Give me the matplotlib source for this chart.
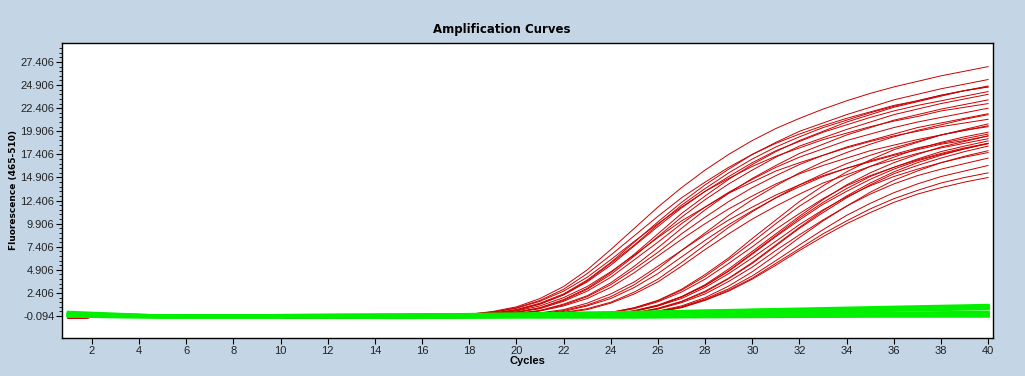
import numpy as np
import matplotlib
matplotlib.use("Agg")
import matplotlib.pyplot as plt
from matplotlib.ticker import FixedLocator

# ── data ────────────────────────────────────────────────────
cycles = np.arange(1, 41)

# shared flat start of the positive samples, cycles 1-15
red_baseline = [-0.3, -0.25, -0.2, -0.2, -0.2, -0.2, -0.2, -0.2, -0.2, -0.25,
                -0.3, -0.3, -0.3, -0.25, -0.2]

# positive samples, fluorescence at cycles 16..40
red_early = [
    [-0.15, -0.1, 0.1, 0.4, 0.9, 1.8, 3.1, 4.9, 7.1, 9.4, 11.7, 13.8, 15.7, 17.4, 18.9, 20.2, 21.3, 22.3, 23.2, 24.0, 24.7, 25.3, 25.9, 26.4, 26.9],
    [-0.16, -0.12, 0.0, 0.2, 0.6, 1.3, 2.3, 3.8, 5.7, 7.9, 10.1, 12.2, 14.1, 15.8, 17.4, 18.7, 19.9, 20.8, 21.7, 22.5, 23.3, 23.9, 24.5, 25.0, 25.5],
    [-0.16, -0.12, 0.0, 0.2, 0.6, 1.2, 2.2, 3.7, 5.6, 7.6, 9.8, 11.9, 13.7, 15.4, 16.9, 18.2, 19.3, 20.3, 21.1, 21.9, 22.6, 23.2, 23.8, 24.3, 24.8],
    [-0.15, -0.1, 0.1, 0.35, 0.8, 1.6, 2.8, 4.5, 6.5, 8.6, 10.7, 12.7, 14.4, 16.0, 17.4, 18.6, 19.6, 20.5, 21.3, 22.0, 22.7, 23.2, 23.8, 24.3, 24.7],
    [-0.17, -0.15, -0.1, 0.1, 0.35, 0.8, 1.7, 2.9, 4.6, 6.6, 8.8, 11.0, 12.9, 14.7, 16.3, 17.7, 18.9, 19.9, 20.9, 21.7, 22.5, 23.1, 23.7, 24.3, 24.7],
    [-0.16, -0.13, 0.0, 0.2, 0.5, 1.2, 2.2, 3.6, 5.4, 7.5, 9.6, 11.6, 13.4, 15.0, 16.5, 17.8, 18.8, 19.8, 20.6, 21.4, 22.1, 22.7, 23.2, 23.7, 24.2],
    [-0.18, -0.15, -0.1, 0.1, 0.3, 0.8, 1.6, 2.8, 4.4, 6.4, 8.5, 10.6, 12.5, 14.2, 15.7, 17.1, 18.3, 19.2, 20.1, 20.9, 21.7, 22.3, 22.9, 23.4, 23.9],
    [-0.2, -0.16, -0.13, 0.0, 0.2, 0.5, 1.2, 2.1, 3.5, 5.3, 7.3, 9.4, 11.4, 13.2, 14.8, 16.2, 17.5, 18.5, 19.5, 20.3, 21.1, 21.7, 22.3, 22.8, 23.3],
    [-0.15, -0.1, 0.05, 0.3, 0.75, 1.5, 2.6, 4.1, 6.0, 8.0, 9.9, 11.7, 13.4, 14.8, 16.1, 17.2, 18.1, 19.0, 19.7, 20.4, 21.0, 21.5, 22.1, 22.5, 22.9],
    [-0.18, -0.15, -0.1, 0.05, 0.3, 0.7, 1.5, 2.6, 4.1, 6.0, 7.9, 9.9, 11.7, 13.3, 14.7, 16.0, 17.1, 18.0, 18.9, 19.6, 20.3, 20.9, 21.4, 21.9, 22.4],
    [-0.2, -0.17, -0.13, 0.0, 0.15, 0.5, 1.1, 2.0, 3.3, 5.0, 6.8, 8.8, 10.6, 12.3, 13.8, 15.1, 16.3, 17.3, 18.2, 18.9, 19.6, 20.3, 20.8, 21.3, 21.8],
    [-0.17, -0.14, -0.05, 0.15, 0.45, 1.0, 1.9, 3.1, 4.7, 6.5, 8.4, 10.2, 11.7, 13.2, 14.4, 15.6, 16.5, 17.3, 18.1, 18.8, 19.4, 19.9, 20.4, 20.8, 21.2],
    [-0.2, -0.17, -0.14, -0.05, 0.15, 0.45, 1.0, 1.8, 3.0, 4.6, 6.4, 8.2, 9.9, 11.5, 12.9, 14.2, 15.3, 16.2, 17.0, 17.8, 18.4, 19.0, 19.5, 20.0, 20.4],
    [-0.2, -0.18, -0.16, -0.1, 0.0, 0.25, 0.6, 1.3, 2.3, 3.6, 5.3, 7.0, 8.7, 10.3, 11.7, 13.0, 14.1, 15.1, 15.9, 16.6, 17.3, 17.9, 18.5, 18.9, 19.4],
]

red_middle = [
    [-0.2, -0.2, -0.17, -0.13, -0.05, 0.15, 0.5, 1.1, 2.0, 3.3, 5.0, 7.0, 8.9, 10.8, 12.5, 14.0, 15.4, 16.6, 17.6, 18.5, 19.3, 20.0, 20.6, 21.2, 21.7],
    [-0.2, -0.2, -0.18, -0.16, -0.1, 0.05, 0.3, 0.7, 1.4, 2.5, 3.9, 5.7, 7.6, 9.5, 11.2, 12.7, 14.1, 15.3, 16.4, 17.3, 18.1, 18.8, 19.5, 20.0, 20.5],
    [-0.2, -0.2, -0.17, -0.14, -0.05, 0.15, 0.4, 1.0, 1.8, 3.0, 4.5, 6.3, 8.1, 9.8, 11.3, 12.7, 13.9, 15.0, 15.9, 16.7, 17.4, 18.1, 18.6, 19.1, 19.6],
    [-0.2, -0.2, -0.18, -0.16, -0.1, 0.0, 0.25, 0.6, 1.3, 2.3, 3.6, 5.3, 7.1, 8.8, 10.4, 11.8, 13.1, 14.3, 15.2, 16.1, 16.8, 17.5, 18.1, 18.6, 19.1],
]

red_late = [
    [-0.2, -0.2, -0.2, -0.2, -0.2, -0.18, -0.12, 0.0, 0.3, 0.8, 1.6, 2.8, 4.4, 6.2, 8.3, 10.3, 12.3, 14.0, 15.5, 16.8, 17.9, 18.7, 19.5, 20.1, 20.7],
    [-0.2, -0.2, -0.2, -0.2, -0.2, -0.2, -0.16, -0.1, 0.1, 0.5, 1.1, 2.0, 3.3, 5.0, 6.9, 8.8, 10.7, 12.5, 14.1, 15.4, 16.5, 17.4, 18.2, 18.8, 19.4],
    [-0.2, -0.2, -0.2, -0.2, -0.2, -0.2, -0.16, -0.1, 0.1, 0.45, 1.0, 1.95, 3.2, 4.75, 6.6, 8.5, 10.3, 12.0, 13.4, 14.7, 15.8, 16.7, 17.4, 18.0, 18.55],
    [-0.2, -0.2, -0.2, -0.2, -0.2, -0.2, -0.18, -0.13, 0.0, 0.25, 0.75, 1.5, 2.6, 4.0, 5.7, 7.6, 9.5, 11.3, 12.9, 14.3, 15.5, 16.5, 17.3, 18.0, 18.6],
    [-0.2, -0.2, -0.2, -0.2, -0.2, -0.18, -0.13, 0.0, 0.25, 0.7, 1.45, 2.5, 3.9, 5.6, 7.4, 9.3, 11.0, 12.6, 14.0, 15.1, 16.0, 16.8, 17.5, 18.1, 18.6],
    [-0.2, -0.2, -0.2, -0.2, -0.2, -0.2, -0.18, -0.13, 0.0, 0.25, 0.7, 1.45, 2.5, 3.95, 5.6, 7.5, 9.4, 11.1, 12.7, 14.1, 15.3, 16.2, 17.0, 17.7, 18.3],
    [-0.2, -0.2, -0.2, -0.2, -0.2, -0.2, -0.2, -0.16, -0.1, 0.1, 0.45, 1.0, 1.9, 3.15, 4.7, 6.5, 8.4, 10.2, 11.8, 13.3, 14.6, 15.6, 16.5, 17.2, 17.8],
    [-0.2, -0.2, -0.2, -0.2, -0.2, -0.2, -0.17, -0.1, 0.1, 0.4, 1.0, 1.8, 3.0, 4.5, 6.2, 8.0, 9.8, 11.4, 12.8, 14.0, 15.0, 15.8, 16.5, 17.1, 17.6],
    [-0.2, -0.2, -0.2, -0.2, -0.2, -0.2, -0.18, -0.13, 0.0, 0.2, 0.65, 1.35, 2.3, 3.65, 5.2, 7.0, 8.7, 10.3, 11.8, 13.1, 14.2, 15.1, 15.8, 16.4, 17.0],
    [-0.2, -0.2, -0.2, -0.2, -0.2, -0.2, -0.2, -0.17, -0.1, 0.05, 0.4, 0.9, 1.75, 2.85, 4.25, 5.9, 7.6, 9.25, 10.8, 12.1, 13.25, 14.2, 15.0, 15.6, 16.2],
    [-0.2, -0.2, -0.2, -0.2, -0.2, -0.2, -0.2, -0.17, -0.1, 0.05, 0.35, 0.85, 1.65, 2.7, 4.0, 5.6, 7.2, 8.8, 10.2, 11.5, 12.6, 13.5, 14.3, 14.9, 15.4],
    [-0.2, -0.2, -0.2, -0.2, -0.2, -0.2, -0.2, -0.17, -0.1, 0.05, 0.35, 0.8, 1.6, 2.6, 3.9, 5.4, 7.0, 8.5, 9.9, 11.1, 12.2, 13.1, 13.8, 14.4, 14.9],
    [-0.2, -0.2, -0.2, -0.2, -0.2, -0.18, -0.12, 0.0, 0.3, 0.8, 1.55, 2.7, 4.2, 6.0, 7.9, 9.9, 11.8, 13.4, 14.9, 16.1, 17.1, 18.0, 18.7, 19.3, 19.8],
    [-0.2, -0.2, -0.2, -0.2, -0.2, -0.2, -0.16, -0.1, 0.1, 0.45, 1.05, 2.0, 3.2, 4.8, 6.7, 8.6, 10.5, 12.2, 13.7, 15.0, 16.0, 16.9, 17.7, 18.3, 18.86],
]

# negative samples, read at a few cycles
green_cycles = [1, 5, 10, 15, 20, 25, 30, 35, 40]
green_curves = [
    [0.3, -0.1, -0.05, 0.0, 0.1, 0.3, 0.55, 0.8, 1.05],
    [0.2, -0.1, -0.05, 0.0, 0.1, 0.25, 0.5, 0.7, 0.95],
    [0.1, -0.1, -0.05, 0.0, 0.05, 0.2, 0.4, 0.6, 0.8],
    [0.1, -0.1, -0.1, -0.05, 0.0, 0.15, 0.35, 0.5, 0.7],
    [0.0, -0.15, -0.15, -0.1, -0.05, 0.0, 0.1, 0.2, 0.3],
    [0.0, -0.15, -0.15, -0.15, -0.1, -0.05, 0.0, 0.1, 0.15],
    [-0.1, -0.2, -0.2, -0.2, -0.15, -0.15, -0.1, -0.05, 0.0],
    [-0.1, -0.2, -0.2, -0.25, -0.2, -0.2, -0.15, -0.1, -0.1],
]

y_ticks = [-0.094, 2.406, 4.906, 7.406, 9.906, 12.406, 14.906,
           17.406, 19.906, 22.406, 24.906, 27.406]
x_ticks = list(range(2, 41, 2))

# ── figure ──────────────────────────────────────────────────
bg = '#c4d6e6'
fig = plt.figure(figsize=(10.25, 3.76), dpi=100, facecolor=bg)
ax = fig.add_axes([0.0605, 0.1011, 0.9083, 0.7846])
ax.set_facecolor('white')

for tail in red_early + red_middle + red_late:
    ax.plot(cycles, red_baseline + tail, color='#c80000', linewidth=0.7)

for g in green_curves:
    ax.plot(green_cycles, g, color='#00f000', linewidth=2.4)

ax.set_xlim(0.73, 40.21)
ax.set_ylim(-2.47, 29.46)

ax.yaxis.set_major_locator(FixedLocator(y_ticks))
ax.set_yticklabels([f"{v:.3f}" for v in y_ticks])
ax.yaxis.set_minor_locator(FixedLocator(np.arange(-0.094, 29.4, 0.5)))
ax.xaxis.set_major_locator(FixedLocator(x_ticks))

ax.tick_params(axis='both', which='major', length=4, width=0.8,
               labelsize=8, colors='black', pad=1.5)
ax.tick_params(axis='y', which='minor', length=2, width=0.6)
for lab in ax.get_xticklabels() + ax.get_yticklabels():
    lab.set_fontfamily('Liberation Sans')
    lab.set_color('#222222')

for sp in ax.spines.values():
    sp.set_linewidth(1.0)

fig.text(502 / 1025, 1 - 29 / 376, "Amplification Curves", fontsize=8.5,
         fontweight='bold', family='DejaVu Sans', ha='center', va='center')
ax.set_xlabel("Cycles", fontsize=8, fontweight='bold',
              family='Liberation Sans', labelpad=0)
ax.set_ylabel("Fluorescence (465-510)", fontsize=6.5, fontweight='bold',
              family='DejaVu Sans', labelpad=1.5)

plt.savefig("out.png", dpi=100, facecolor=bg)
